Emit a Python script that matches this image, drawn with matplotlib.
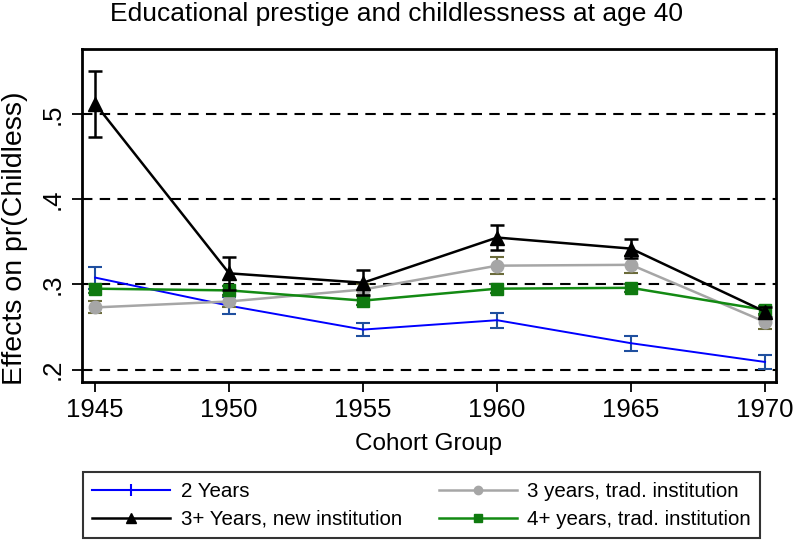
import matplotlib
matplotlib.use("Agg")
import matplotlib.pyplot as plt
from matplotlib.lines import Line2D

plt.rcParams['font.family'] = ['Liberation Sans', 'DejaVu Sans']

cohorts = [1945, 1950, 1955, 1960, 1965, 1970]

# point estimates
two_years = [0.308, 0.275, 0.247, 0.258, 0.231, 0.209]
three_new = [0.512, 0.313, 0.302, 0.355, 0.342, 0.268]
three_trad = [0.273, 0.280, 0.294, 0.322, 0.323, 0.256]
four_trad = [0.295, 0.293, 0.281, 0.295, 0.296, 0.270]

# half-widths of the intervals
two_years_err = [0.013, 0.010, 0.008, 0.009, 0.009, 0.008]
three_new_err = [0.039, 0.019, 0.015, 0.015, 0.011, 0.006]
three_trad_err = [0.007, 0.006, 0.006, 0.010, 0.010, 0.008]
four_trad_err = [0.005, 0.005, 0.005, 0.005, 0.005, 0.005]

labels = ['2 Years', '3+ Years, new institution',
          '3 years, trad. institution', '4+ years, trad. institution']

fig = plt.figure(figsize=(7.94, 5.42), dpi=100)
ax = fig.add_axes([0.103, 0.296, 0.874, 0.614])

for y in [0.2, 0.3, 0.4, 0.5]:
    ax.axhline(y, color='black', lw=1.5, ls=(0, (5, 3.5)), zorder=1)

ax.errorbar(cohorts, two_years, yerr=two_years_err, color='#0000ff', ecolor='#1f4f9f',
            lw=1.4, elinewidth=1.5, capsize=5, capthick=1.5, zorder=3)
ax.errorbar(cohorts, three_trad, yerr=three_trad_err, color='#a6a6a6', ecolor='#6b6b3a',
            lw=1.8, elinewidth=1.5, capsize=5, capthick=1.5, marker='o', ms=9,
            mec='#a6a6a6', mfc='#a6a6a6', zorder=4)
ax.errorbar(cohorts, four_trad, yerr=four_trad_err, color='#138a13', ecolor='#3a6b3a',
            lw=1.8, elinewidth=1.5, capsize=5, capthick=1.5, marker='s', ms=9,
            mec='#0f7a0f', mfc='#0f7a0f', zorder=5)
ax.errorbar(cohorts, three_new, yerr=three_new_err, color='black', ecolor='black',
            lw=1.8, elinewidth=1.8, capsize=5, capthick=1.8, marker='^', ms=10,
            zorder=6)

ax.set_xlim(1944.5, 1970.4)
ax.set_ylim(0.186, 0.5765)
ax.set_xticks(cohorts)
ax.set_yticks([0.2, 0.3, 0.4, 0.5])
ax.set_yticklabels(['.2', '.3', '.4', '.5'], rotation=90, va='center')
ax.tick_params(axis='both', direction='out', length=7, width=1.3, labelsize=18.5, pad=5)

for s in ax.spines.values():
    s.set_linewidth(2)

ax.set_xlabel('Cohort Group', fontsize=17.5, labelpad=8)
ax.set_ylabel('Effects on pr(Childless)', fontsize=20.5)
ax.yaxis.set_label_coords(-0.078, 0.43)
fig.suptitle('Educational prestige and childlessness at age 40', fontsize=19, y=0.997)

handles = [
    Line2D([], [], color='#0000ff', lw=1.5, marker='|', ms=9, mew=1.5),
    Line2D([], [], color='black', lw=1.8, marker='^', ms=7),
    Line2D([], [], color='#a6a6a6', lw=1.8, marker='o', ms=6),
    Line2D([], [], color='#138a13', lw=1.8, marker='s', ms=6, mfc='#0f7a0f', mec='#0f7a0f'),
]
leg = fig.legend(handles, labels, loc='lower center', bbox_to_anchor=(0.531, 0.007),
                 borderaxespad=0, ncol=2, fontsize=14.8, frameon=True, fancybox=False,
                 edgecolor='black', handlelength=3.8, columnspacing=1.8,
                 handletextpad=0.5, borderpad=0.45, labelspacing=0.45)
leg.get_frame().set_linewidth(1.5)

fig.savefig('out.png', dpi=100)
